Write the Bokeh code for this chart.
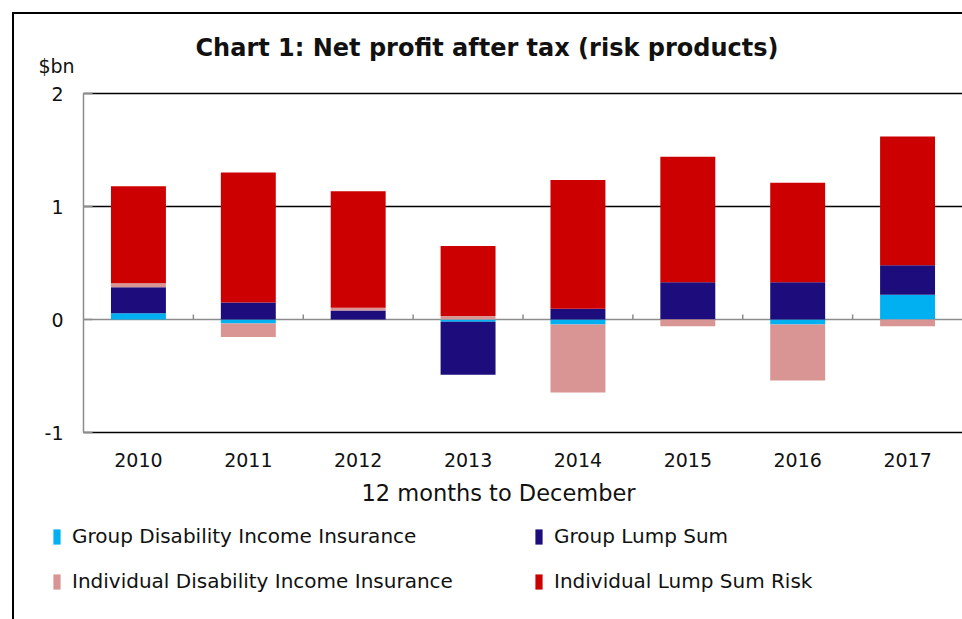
from bokeh.plotting import figure
from bokeh.layouts import column
from bokeh.models import (Range1d, FixedTicker, Legend, LegendItem, Label)
from bokeh.core.properties import value
from bokeh.embed import file_html
from bokeh.resources import INLINE

# ---- data ----
years = ["2010", "2011", "2012", "2013", "2014", "2015", "2016", "2017"]
series_names = ["Group Disability Income Insurance", "Group Lump Sum",
                "Individual Disability Income Insurance", "Individual Lump Sum Risk"]
group_dii = [0.055, -0.035, 0.0, -0.02, -0.045, 0.0, -0.045, 0.22]
group_lump = [0.23, 0.15, 0.08, -0.47, 0.095, 0.33, 0.33, 0.26]
indiv_dii = [0.035, -0.12, 0.025, 0.03, -0.60, -0.06, -0.495, -0.06]
indiv_lump = [0.86, 1.15, 1.03, 0.62, 1.14, 1.11, 0.88, 1.14]
y_ticks = [-1, 0, 1, 2]
y_tick_labels = ["-1", "0", "1", "2"]
title_text = "Chart 1: Net profit after tax (risk products)"
unit_text = "$bn"
x_title = "12 months to December"
colors = ["#00B0F0", "#1C0C7C", "#D99594", "#CC0000"]

series = [group_dii, group_lump, indiv_dii, indiv_lump]
xs = list(range(len(years)))

# ---- layout constants (window pixels) ----
OFF = 14            # page offset caused by the outer border
W = 962 - OFF
FRAME_L = 34        # frame left edge
AXIS_X = 83         # y-axis line
RIGHT = 962
HEAD_H = 66         # header: window y 14..80
MAIN_H = 429        # main: window y 80..509
LEG_H = 619 - OFF - HEAD_H - MAIN_H
Y_TOP_PX, Y_BOT_PX = 93, 432        # where the top / bottom ticks sit
FRAME_T, FRAME_B = OFF + HEAD_H, 444
TXT = "#111111"
FONT = "DejaVu Sans"

x_lo, x_hi = -0.5, len(years) - 0.5
ppx = (RIGHT - AXIS_X) / (x_hi - x_lo)
x_range = Range1d(x_lo - (AXIS_X - FRAME_L) / ppx, x_hi)
ppy = (Y_BOT_PX - Y_TOP_PX) / (y_ticks[-1] - y_ticks[0])
y_range = Range1d(y_ticks[0] - (FRAME_B - Y_BOT_PX) / ppy,
                  y_ticks[-1] + (Y_TOP_PX - FRAME_T) / ppy)

# ---------------- header (title + unit) ----------------
head = figure(width=W, height=HEAD_H, output_backend="svg", toolbar_location=None,
              title=None, x_axis_location=None, y_axis_location=None,
              x_range=Range1d(0, 1), y_range=Range1d(0, 1),
              min_border_left=FRAME_L - OFF, min_border_right=0, min_border_top=0,
              min_border_bottom=0)
head.outline_line_color = None
head.grid.visible = False
head.add_layout(Label(x=195 - FRAME_L, y=33, x_units="screen", y_units="screen",
                      text=title_text, text_align="left", text_baseline="middle",
                      text_font=FONT, text_font_size="24px", text_font_style="bold",
                      text_color=TXT))
head.add_layout(Label(x=56 - FRAME_L, y=15, x_units="screen", y_units="screen",
                      text=unit_text, text_align="center", text_baseline="middle",
                      text_font=FONT, text_font_size="19px", text_color=TXT))

# ---------------- main chart ----------------
p = figure(width=W, height=MAIN_H, output_backend="svg", toolbar_location=None,
           title=None, x_range=x_range, y_range=y_range,
           min_border_left=FRAME_L - OFF, min_border_right=0, min_border_top=0,
           min_border_bottom=MAIN_H - (FRAME_B - FRAME_T))
p.outline_line_color = None
p.background_fill_color = "white"
p.border_fill_color = "white"
p.grid.visible = False

grid_y = [t for t in y_ticks if t != 0]
p.segment(x0=[x_lo] * len(grid_y), y0=grid_y, x1=[x_hi] * len(grid_y), y1=grid_y,
          line_color="black", line_width=1.5)
p.segment(x0=[x_lo], y0=[0], x1=[x_hi], y1=[0], line_color="#8c8c8c", line_width=1.5)

pos_base = [0.0] * len(years)
neg_base = [0.0] * len(years)
for vals, col in zip(series, colors):
    bottoms, tops = [], []
    for i, v in enumerate(vals):
        if v >= 0:
            bottoms.append(pos_base[i]); tops.append(pos_base[i] + v); pos_base[i] += v
        else:
            tops.append(neg_base[i]); bottoms.append(neg_base[i] + v); neg_base[i] += v
    p.vbar(x=xs, bottom=bottoms, top=tops, width=0.5, fill_color=col, line_color=None)

tick_len = 5 / ppy
bounds = [i + 0.5 for i in range(len(years) - 1)]
p.segment(x0=bounds, y0=[0] * len(bounds), x1=bounds, y1=[tick_len] * len(bounds),
          line_color="#8c8c8c", line_width=1.5)

# y axis: line and inner ticks drawn by the axis at x = -0.5
ya = p.yaxis[0]
ya.fixed_location = x_lo
ya.ticker = FixedTicker(ticks=y_ticks)
ya.bounds = (y_ticks[0], y_ticks[-1])
ya.axis_line_color = "#8c8c8c"
ya.axis_line_width = 1.5
ya.major_tick_in = 9
ya.major_tick_out = 0
ya.major_tick_line_color = "#8c8c8c"
ya.major_tick_line_width = 1.5
ya.minor_tick_line_color = None
ya.major_label_standoff = 0
ya.major_label_text_font_size = "1px"
ya.major_label_text_color = None
# y tick labels, placed through the plot's scales
p.text(x=[x_lo] * len(y_ticks), y=y_ticks, text=y_tick_labels, x_offset=-20,
       text_align="right", text_baseline="middle", text_font=value(FONT),
       text_font_size="19px", text_color=TXT)

xa = p.xaxis[0]
xa.ticker = FixedTicker(ticks=xs)
xa.major_label_overrides = {i: y for i, y in enumerate(years)}
xa.axis_line_color = None
xa.major_tick_line_color = None
xa.minor_tick_line_color = None
xa.major_label_standoff = 2
xa.major_label_text_font = FONT
xa.major_label_text_font_size = "19px"
xa.major_label_text_color = TXT
xa.axis_label = x_title
xa.axis_label_text_font = FONT
xa.axis_label_text_font_size = "22.5px"
xa.axis_label_text_font_style = "normal"
xa.axis_label_text_color = TXT
xa.axis_label_standoff = 10

# ---------------- legend ----------------
leg = figure(width=W, height=LEG_H, output_backend="svg", toolbar_location=None,
             title=None, x_axis_location=None, y_axis_location=None,
             x_range=Range1d(0, 1), y_range=Range1d(0, 1),
             min_border_left=FRAME_L - OFF, min_border_right=0, min_border_top=0,
             min_border_bottom=0)
leg.outline_line_color = None
leg.grid.visible = False
# zero-height placeholder glyphs that only carry each series' colour into the legend
swatches = [leg.vbar(x=xs[:1], bottom=[0], top=[0], width=0, fill_color=c,
                     line_color=None) for c in colors]
items = [LegendItem(label=n, renderers=[r]) for n, r in zip(series_names, swatches)]
legend = Legend(items=items, location=(52 - FRAME_L, 26), orientation="horizontal",
                ncols=2, glyph_width=9, glyph_height=19, label_standoff=11,
                label_width=441, spacing=21, padding=0, margin=0,
                border_line_color=None, background_fill_alpha=0,
                label_text_font=FONT, label_text_font_size="20px",
                label_text_color=TXT)
leg.add_layout(legend)

page = column(head, p, leg, spacing=0,
              styles={"margin-left": "12px", "margin-top": "12px",
                      "border-left": "2px solid black", "border-top": "2px solid black"})

open("out.html", "w").write(file_html(page, INLINE))
